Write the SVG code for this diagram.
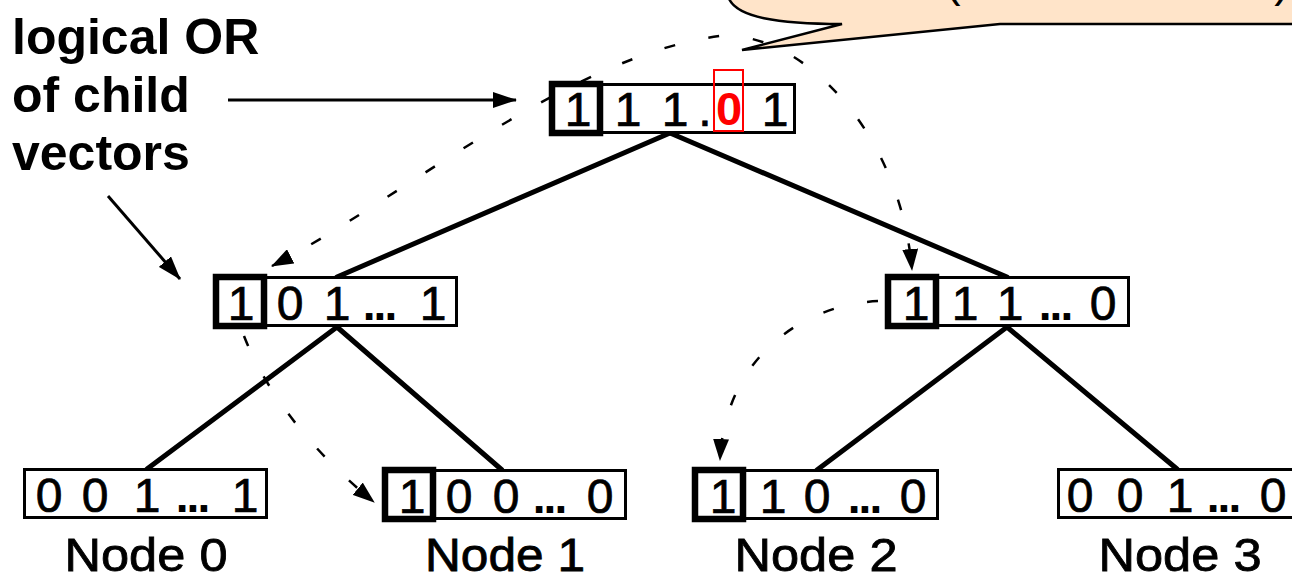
<svg xmlns="http://www.w3.org/2000/svg" width="1292" height="581" viewBox="0 0 1292 581">
  <defs>
    <!-- arrowhead for the dashed relay curves -->
    <marker id="relayHead" markerUnits="userSpaceOnUse" markerWidth="22" markerHeight="16" viewBox="0 0 22 16" refX="21" refY="8" orient="auto-start-reverse">
      <path d="M0,0 L22,8 L0,16 Z" fill="#000"/>
    </marker>
    <!-- arrowhead for the solid pointer arrows -->
    <marker id="pointHead" markerUnits="userSpaceOnUse" markerWidth="24" markerHeight="16" viewBox="0 0 24 16" refX="23" refY="8" orient="auto">
      <path d="M0,0 L24,8 L0,16 Z" fill="#000"/>
    </marker>
  </defs>
  <style>
    text { font-family: "Liberation Sans", Arial, Helvetica, sans-serif; fill: #000; }
    .box { fill: #fff; stroke: #000; stroke-width: 3; }
    .lead { fill: none; stroke: #000; stroke-width: 6.5; }
    .bit { font-size: 48px; text-anchor: middle; stroke: #000; stroke-width: 0.7; }
    .dots { font-size: 46px; text-anchor: middle; font-weight: bold; letter-spacing: -2px; }
    .hot { font-size: 47px; text-anchor: middle; font-weight: bold; fill: #ff0000; }
    .hotbox { fill: none; stroke: #ff0000; stroke-width: 2; }
    .name { font-size: 46px; text-anchor: middle; stroke: #000; stroke-width: 0.8; }
    .note { font-size: 50px; font-weight: bold; }
    .paren { font-size: 46px; text-anchor: middle; }
    .edge { stroke: #000; stroke-width: 5; stroke-linecap: round; fill: none; }
    .relay { fill: none; stroke: #000; stroke-width: 2.5; stroke-dasharray: 11 34; }
    .pointer { fill: none; stroke: #000; stroke-width: 3; }
    .bubble { fill: #ffe4c9; stroke: #000; stroke-width: 2.5; stroke-linejoin: miter; }
  </style>

  <rect x="0" y="0" width="1292" height="581" fill="#fff"/>

  <!-- tree edges and dashed relay curves -->
  <g id="connectors">
    <line class="edge" x1="670" y1="133" x2="337" y2="277"/>
    <line class="edge" x1="670" y1="133" x2="1007" y2="277"/>
    <line class="edge" x1="337" y1="327" x2="147" y2="469"/>
    <line class="edge" x1="337" y1="327" x2="502" y2="470"/>
    <line class="edge" x1="1007" y1="327" x2="817" y2="470"/>
    <line class="edge" x1="1007" y1="327" x2="1177" y2="469"/>

    <path class="relay" d="M272,266 C400,200 570,55 720,36 C800,30 900,130 912,270" marker-start="url(#relayHead)" marker-end="url(#relayHead)"/>
    <path class="relay" d="M878,301 C800,305 725,360 720,460" marker-end="url(#relayHead)"/>
    <path class="relay" d="M244,336 C265,390 310,450 374,502" marker-end="url(#relayHead)"/>

    <line class="pointer" x1="228" y1="100" x2="516" y2="100" marker-end="url(#pointHead)"/>
    <line class="pointer" x1="108" y1="196" x2="180" y2="279" marker-end="url(#pointHead)"/>
  </g>

  <!-- root vector -->
  <g id="root" transform="translate(549,83)">
    <rect class="box" x="1.5" y="1.5" width="244" height="48"/>
    <rect class="lead" x="3" y="1" width="48" height="49"/>
    <text class="bit" x="29" y="43">1</text>
    <text class="bit" x="79" y="43">1</text>
    <text class="bit" x="126" y="43">1</text>
    <text class="bit" x="156" y="43">.</text>
    <rect class="hotbox" x="165" y="-13" width="29" height="61"/>
    <text class="hot" x="180" y="42">0</text>
    <text class="bit" x="226" y="43">1</text>
  </g>

  <!-- inner node, left -->
  <g id="inner-left" transform="translate(213,276)">
    <rect class="box" x="1.5" y="1.5" width="242" height="48"/>
    <rect class="lead" x="3" y="1" width="48" height="49"/>
    <text class="bit" x="28" y="44">1</text>
    <text class="bit" x="77" y="44">0</text>
    <text class="bit" x="124" y="44">1</text>
    <text class="dots" x="166" y="44">...</text>
    <text class="bit" x="220" y="44">1</text>
  </g>

  <!-- inner node, right -->
  <g id="inner-right" transform="translate(885,276)">
    <rect class="box" x="1.5" y="1.5" width="242" height="48"/>
    <rect class="lead" x="3" y="1" width="48" height="49"/>
    <text class="bit" x="31" y="44">1</text>
    <text class="bit" x="80" y="44">1</text>
    <text class="bit" x="125" y="44">1</text>
    <text class="dots" x="170" y="44">...</text>
    <text class="bit" x="218" y="44">0</text>
  </g>

  <!-- leaf nodes -->
  <g id="node0" transform="translate(23,468)">
    <rect class="box" x="1.5" y="1.5" width="242" height="48"/>
    <text class="bit" x="26" y="44">0</text>
    <text class="bit" x="72" y="44">0</text>
    <text class="bit" x="124" y="44">1</text>
    <text class="dots" x="169" y="44">...</text>
    <text class="bit" x="222" y="44">1</text>
    <text class="name" x="123" y="103" textLength="163" lengthAdjust="spacingAndGlyphs">Node 0</text>
  </g>

  <g id="node1" transform="translate(382,469)">
    <rect class="box" x="1.5" y="1.5" width="242" height="48"/>
    <rect class="lead" x="3" y="1" width="48" height="49"/>
    <text class="bit" x="30" y="44">1</text>
    <text class="bit" x="77" y="44">0</text>
    <text class="bit" x="124" y="44">0</text>
    <text class="dots" x="167" y="44">...</text>
    <text class="bit" x="218" y="44">0</text>
    <text class="name" x="123" y="102" textLength="160" lengthAdjust="spacingAndGlyphs">Node 1</text>
  </g>

  <g id="node2" transform="translate(692,469)">
    <rect class="box" x="1.5" y="1.5" width="244" height="48"/>
    <rect class="lead" x="3" y="1" width="48" height="49"/>
    <text class="bit" x="31" y="44">1</text>
    <text class="bit" x="81" y="44">1</text>
    <text class="bit" x="125" y="44">0</text>
    <text class="dots" x="172" y="44">...</text>
    <text class="bit" x="221" y="44">0</text>
    <text class="name" x="124" y="102" textLength="163" lengthAdjust="spacingAndGlyphs">Node 2</text>
  </g>

  <g id="node3" transform="translate(1057,468)">
    <rect class="box" x="1.5" y="1.5" width="244" height="48"/>
    <text class="bit" x="23" y="44">0</text>
    <text class="bit" x="73" y="44">0</text>
    <text class="bit" x="123" y="44">1</text>
    <text class="dots" x="166" y="44">...</text>
    <text class="bit" x="216" y="44">0</text>
    <text class="name" x="123" y="103" textLength="163" lengthAdjust="spacingAndGlyphs">Node 3</text>
  </g>

  <!-- side annotation -->
  <g id="annotation">
    <text class="note" x="12" y="54">logical OR</text>
    <text class="note" x="12" y="112">of child</text>
    <text class="note" x="12" y="170">vectors</text>
  </g>

  <!-- speech bubble at the top edge -->
  <g id="bubble">
    <path class="bubble" d="M728,-4 C734,18 780,24 842,24 L742,50 L1000,24 L1300,24 L1300,-10 L728,-10 Z"/>
    <text class="paren" x="953" y="-4">(</text>
    <text class="paren" x="1282" y="-4">)</text>
  </g>
</svg>
